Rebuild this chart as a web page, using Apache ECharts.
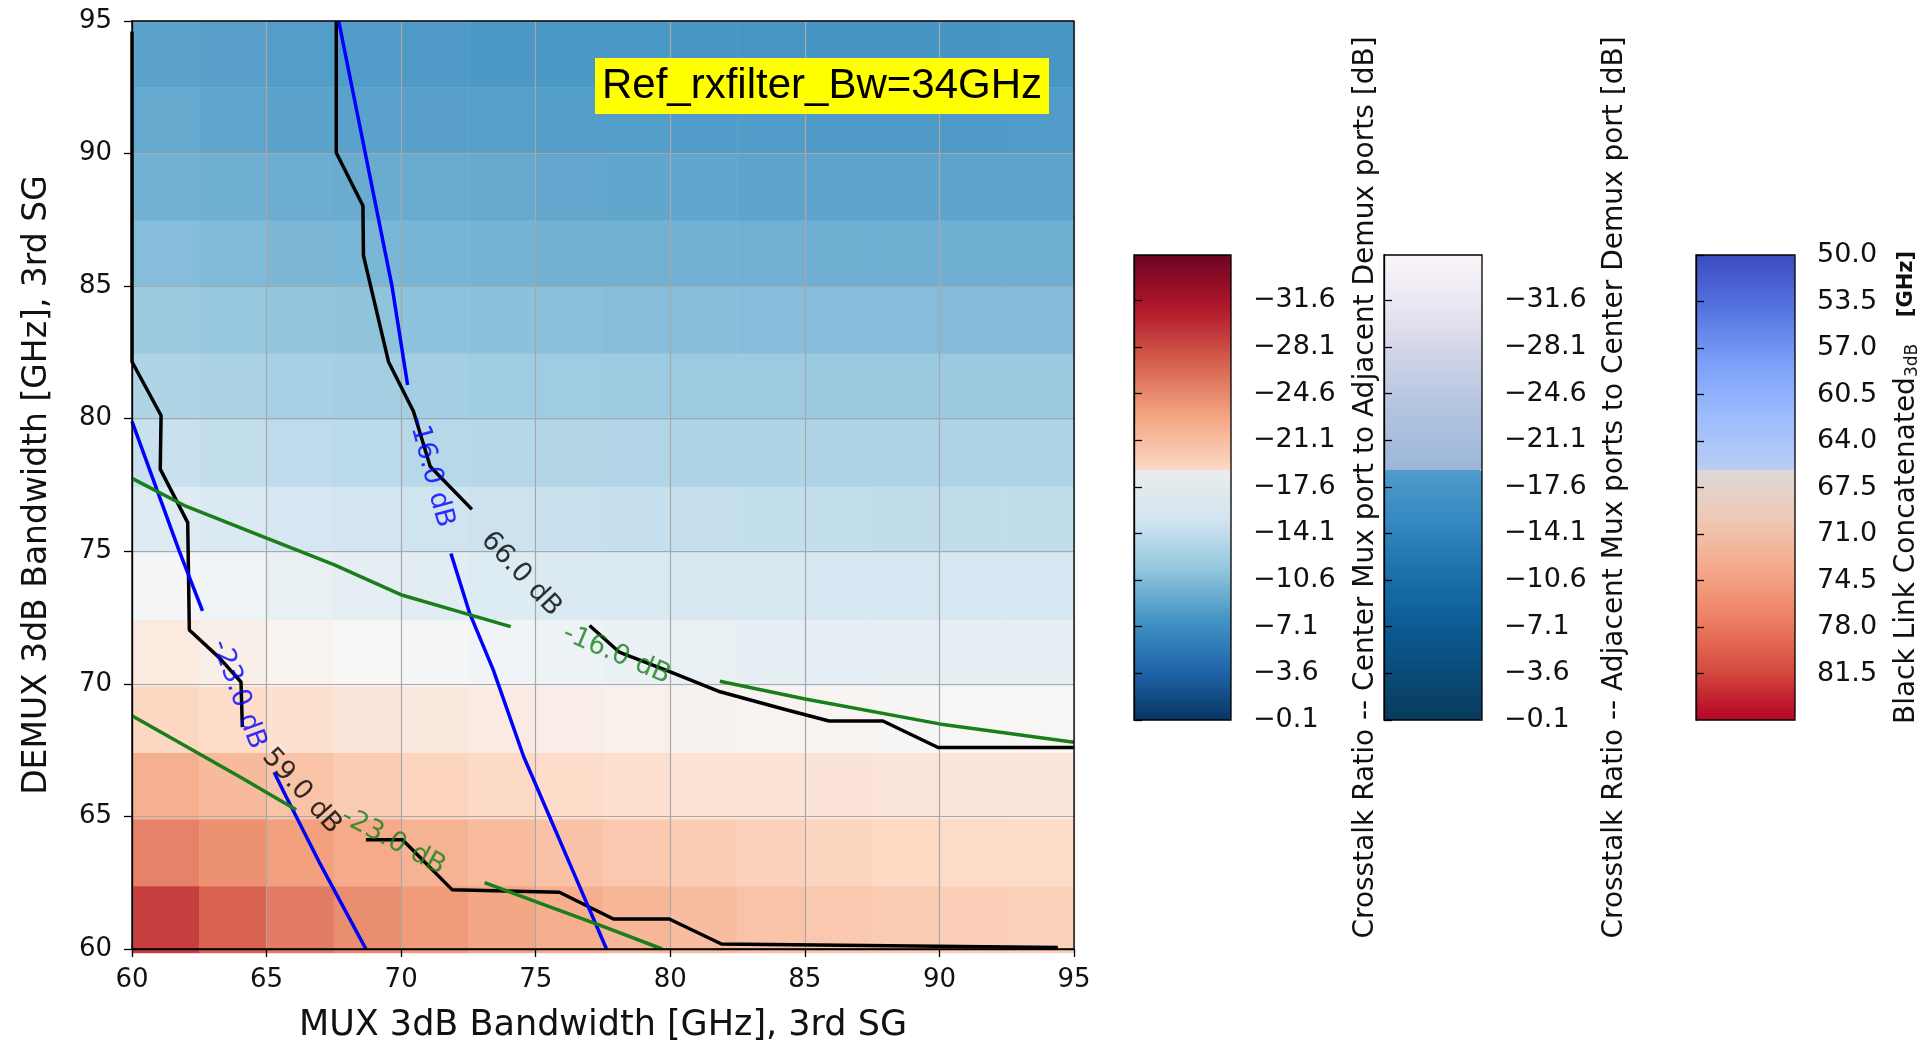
<!DOCTYPE html>
<html>
<head>
<meta charset="utf-8">
<title>Ref_rxfilter_Bw=34GHz</title>
<script src="https://cdn.jsdelivr.net/npm/echarts@6/dist/echarts.min.js"></script>
<style>
  html, body { margin: 0; padding: 0; background: #fff; }
  #main { width: 1929px; height: 1048px; }
</style>
</head>
<body>
<div id="main"></div>
<script>
// ---- background map: 2.5 GHz cells, values in dB (first colour bar scale)
var cellX = ['61.25', '63.75', '66.25', '68.75', '71.25', '73.75', '76.25', '78.75', '81.25', '83.75', '86.25', '88.75', '91.25', '93.75'];
var cellY = ['61.25', '63.75', '66.25', '68.75', '71.25', '73.75', '76.25', '78.75', '81.25', '83.75', '86.25', '88.75', '91.25', '93.75'];
// rows listed from the top of the plot (y = 93.75) down to y = 61.25
var heatRows = [
    [-8.2, -8.0, -7.8, -7.7, -7.6, -7.5, -7.4, -7.4, -7.3, -7.3, -7.2, -7.2, -7.2, -7.3],
    [-8.6, -8.4, -8.2, -8.1, -8.0, -7.9, -7.8, -7.8, -7.7, -7.7, -7.6, -7.6, -7.6, -7.7],
    [-9.2, -9.0, -8.9, -8.8, -8.7, -8.6, -8.5, -8.4, -8.4, -8.3, -8.3, -8.3, -8.3, -8.3],
    [-10.0, -9.8, -9.6, -9.5, -9.4, -9.3, -9.2, -9.2, -9.1, -9.1, -9.0, -9.0, -9.0, -9.0],
    [-11.0, -10.8, -10.6, -10.5, -10.4, -10.3, -10.2, -10.1, -10.1, -10.0, -10.0, -10.0, -9.9, -9.9],
    [-12.2, -12.0, -11.8, -11.6, -11.5, -11.4, -11.3, -11.2, -11.1, -11.1, -11.0, -11.0, -11.0, -11.0],
    [-13.6, -13.3, -13.0, -12.8, -12.6, -12.5, -12.4, -12.3, -12.2, -12.2, -12.1, -12.1, -12.1, -12.1],
    [-15.3, -14.9, -14.5, -14.2, -14.0, -13.8, -13.6, -13.5, -13.4, -13.3, -13.3, -13.2, -13.2, -13.2],
    [-17.2, -16.7, -16.2, -15.8, -15.5, -15.2, -15.0, -14.8, -14.7, -14.6, -14.5, -14.5, -14.4, -14.4],
    [-19.2, -18.6, -18.1, -17.6, -17.2, -16.9, -16.6, -16.4, -16.2, -16.0, -15.9, -15.8, -15.8, -15.8],
    [-21.3, -20.8, -20.3, -19.8, -19.4, -19.0, -18.7, -18.4, -18.2, -18.0, -17.9, -17.8, -17.7, -17.7],
    [-23.8, -23.2, -22.6, -22.0, -21.5, -21.1, -20.8, -20.5, -20.2, -20.0, -19.9, -19.8, -19.7, -19.7],
    [-26.3, -25.5, -24.8, -24.2, -23.6, -23.1, -22.7, -22.3, -22.0, -21.7, -21.4, -21.2, -21.0, -20.9],
    [-29.6, -27.8, -26.6, -25.7, -25.0, -24.4, -23.9, -23.4, -23.0, -22.6, -22.3, -22.0, -21.8, -21.7]
];

// ---- contour lines [MUX GHz, DEMUX GHz], each split where matplotlib put its label
var black59a = [[60, 94.6], [60, 82.15], [61.08, 80.12], [61.05, 78.1], [62.07, 76.08], [62.13, 72.03], [63.24, 70.99], [64.05, 70.07], [64.1, 68.37]];
var black59b = [[68.69, 64.12], [70.05, 64.12], [71.9, 62.23], [75.88, 62.14], [77.89, 61.13], [79.96, 61.13], [81.9, 60.19], [94.4, 60.06]];
var black66a = [[67.59, 95], [67.59, 90.03], [68.58, 88.03], [68.6, 86.15], [69.53, 82.15], [70.46, 80.27], [71.08, 78.2], [72.63, 76.58]];
var black66b = [[77.0, 72.2], [78.1, 71.2], [80.0, 70.45], [81.85, 69.7], [84.2, 69.05], [85.9, 68.6], [87.9, 68.6], [89.95, 67.6], [95, 67.6]];
var blue16a = [[67.68, 95], [68.67, 90], [69.66, 85], [70.24, 81.27]];
var blue16b = [[71.85, 74.92], [72.54, 72.68], [73.43, 70.51], [74.55, 67.26], [75.1, 65.97], [76.4, 62.9], [77.63, 60]];
var blue23a = [[60, 79.9], [61.76, 75], [62.62, 72.75]];
var blue23b = [[65.28, 66.67], [65.72, 65.76], [66.96, 63.27], [68.69, 60]];
var green16a = [[60, 77.75], [62, 76.7], [65, 75.5], [67.5, 74.5], [70.05, 73.34], [72.5, 72.62], [74.07, 72.16]];
var green16b = [[81.84, 70.1], [85.01, 69.43], [90, 68.49], [95, 67.8]];
var green23a = [[60, 68.8], [62, 67.65], [64, 66.5], [66.1, 65.25]];
var green23b = [[73.1, 62.5], [75.5, 61.6], [77.5, 60.85], [79.7, 60]];

// ---- inline contour labels
var labelText = ['59.0 dB', '66.0 dB', '-16.0 dB', '-23.0 dB', '-16.0 dB', '-23.0 dB'];
var labelAt = [[66.3, 65.95], [74.45, 74.14], [71.1, 78.0], [63.95, 69.6], [78.0, 71.1], [69.7, 64.05]];
var labelAngle = [-48, -47, -75, -70, -23, -28];
var labelColor = ['#000', '#000', '#0000ff', '#0000ff', '#1a7f1a', '#1a7f1a'];

// ---- colour bar ticks
var dbTicks = [-31.6, -28.1, -24.6, -21.1, -17.6, -14.1, -10.6, -7.1, -3.6, -0.1];
var ghzTicks = [50.0, 53.5, 57.0, 60.5, 64.0, 67.5, 71.0, 74.5, 78.0, 81.5];

var RdBu = ['#67001f', '#b2182b', '#d6604d', '#f4a582', '#fddbc7', '#f7f7f7', '#d1e5f0', '#92c5de', '#4393c3', '#2166ac', '#053061'];

// colour bars in the picture are pasted from two halves, so each is drawn in two parts
var cb1Top = ['#6d0422', '#b2182b', '#d6604d', '#f4a582', '#fcd9c6'];
var cb1Bot = ['#ececec', '#d1e5f0', '#92c5de', '#4393c3', '#2166ac', '#073462'];
var cb2Top = ['#fbf5f9', '#e8e5f1', '#cdd1e6', '#afc2de', '#9cb6d9'];
var cb2Bot = ['#4f9bcb', '#3689c1', '#1c72ab', '#0c5f96', '#094c7a', '#083a5c'];
var cb3Top = ['#3b4cc0', '#5673e0', '#7b9ff9', '#9dbcfd', '#b8cdf4'];
var cb3Bot = ['#dcd9d7', '#efc8b3', '#f6a78a', '#ec7f63', '#d54b3e', '#b40426'];

var FONT = 'DejaVu Sans';
var CB_TOP = 255, CB_BREAK = 470, CB_BOTTOM = 720;

var heatData = [];
heatRows.forEach(function (row, r) {
    var yi = cellY.length - 1 - r;
    row.forEach(function (v, xi) {
        heatData.push([xi, yi, v]);
    });
});

function minusFmt(v) {
    return (v < 0 ? '\u2212' : '') + Math.abs(v).toFixed(1);
}

function contour(data, color) {
    return {
        type: 'line',
        xAxisIndex: 0,
        yAxisIndex: 0,
        data: data,
        symbol: 'none',
        showSymbol: false,
        silent: true,
        z: 4,
        lineStyle: { color: color, width: 3.5 }
    };
}

function cbAxis(idx, min, max, ticks, name, gap, rich) {
    return {
        type: 'value',
        gridIndex: idx,
        position: 'right',
        min: min,
        max: max,
        inverse: true,
        z: 6,
        splitLine: { show: false },
        axisLine: { show: true, lineStyle: { color: '#000', width: 1.3 } },
        axisTick: { show: true, length: 8, customValues: ticks, lineStyle: { color: '#000', width: 1.3 } },
        axisLabel: {
            customValues: ticks, margin: 22, fontFamily: FONT, fontSize: 27, color: '#111',
            formatter: function (v) { return minusFmt(v); }
        },
        name: name,
        nameLocation: 'middle',
        nameRotate: 90,
        nameGap: gap,
        nameTextStyle: { fontFamily: FONT, fontSize: 28, color: '#111', rich: rich }
    };
}

// one half of a colour bar, drawn by a visualMap that drives no series
function cbPart(left, width, min, max, top, bottom, colors) {
    return {
        type: 'continuous', seriesIndex: [], min: min, max: max, inverse: true, calculable: false,
        orient: 'vertical', left: left, top: top, itemWidth: width, itemHeight: bottom - top, padding: 0,
        inRange: { color: colors }
    };
}

var chart = echarts.init(document.getElementById('main'));

var option = {
    animation: false,
    backgroundColor: '#fff',
    title: {
        text: 'Ref_rxfilter_Bw=34GHz',
        left: 595,
        top: 58,
        backgroundColor: '#ffff00',
        padding: [4, 7, 4, 7],
        textStyle: { fontFamily: 'Liberation Sans', fontSize: 42, fontWeight: 'normal', color: '#000', lineHeight: 48 }
    },
    grid: [
        { left: 132, top: 21, width: 942, height: 932, show: true, borderColor: '#000', borderWidth: 1.3, backgroundColor: 'transparent', z: 5 },
        { left: 132, top: 21, width: 942, height: 932 },
        { left: 1134, top: CB_TOP, width: 97, height: CB_BOTTOM - CB_TOP, show: true, borderColor: '#000', borderWidth: 1.3, backgroundColor: 'transparent', z: 6 },
        { left: 1384, top: CB_TOP, width: 98, height: CB_BOTTOM - CB_TOP, show: true, borderColor: '#000', borderWidth: 1.3, backgroundColor: 'transparent', z: 6 },
        { left: 1696, top: CB_TOP, width: 99, height: CB_BOTTOM - CB_TOP, show: true, borderColor: '#000', borderWidth: 1.3, backgroundColor: 'transparent', z: 6 }
    ],
    xAxis: [
        {
            type: 'value', gridIndex: 0, min: 60, max: 95, interval: 5, z: 3,
            axisLine: { show: true, onZero: false, lineStyle: { color: '#000', width: 1.3 } },
            axisTick: { show: true, length: 8, lineStyle: { color: '#000', width: 1.3 } },
            axisLabel: { margin: 18, fontFamily: FONT, fontSize: 26, color: '#111' },
            splitLine: { show: true, lineStyle: { color: '#a8a8a8', width: 1.2 } },
            name: 'MUX 3dB Bandwidth [GHz], 3rd SG',
            nameLocation: 'middle',
            nameGap: 59,
            nameTextStyle: { fontFamily: FONT, fontSize: 35, color: '#111' }
        },
        { type: 'category', gridIndex: 1, data: cellX, show: false },
        { type: 'value', gridIndex: 2, show: false },
        { type: 'value', gridIndex: 3, show: false },
        { type: 'value', gridIndex: 4, show: false }
    ],
    yAxis: [
        {
            type: 'value', gridIndex: 0, min: 60, max: 95, interval: 5, z: 3,
            axisLine: { show: true, onZero: false, lineStyle: { color: '#000', width: 1.3 } },
            axisTick: { show: true, length: 8, lineStyle: { color: '#000', width: 1.3 } },
            axisLabel: { margin: 20, fontFamily: FONT, fontSize: 26, color: '#111' },
            splitLine: { show: true, lineStyle: { color: '#a8a8a8', width: 1.2 } },
            name: 'DEMUX 3dB Bandwidth [GHz], 3rd SG',
            nameLocation: 'middle',
            nameGap: 78,
            nameTextStyle: { fontFamily: FONT, fontSize: 33, color: '#111' }
        },
        { type: 'category', gridIndex: 1, data: cellY, show: false },
        cbAxis(2, -35, -0.1, dbTicks, 'Crosstalk Ratio -- Center Mux port to Adjacent Demux ports [dB]', 121),
        cbAxis(3, -35, -0.1, dbTicks, 'Crosstalk Ratio -- Adjacent Mux ports to Center Demux port [dB]', 119),
        cbAxis(4, 50, 85, ghzTicks, '{n|Black Link Concatenated}{s|3dB}   {u|[GHz]}', 97, {
            n: { fontFamily: FONT, fontSize: 28, color: '#111' },
            s: { fontFamily: FONT, fontSize: 17, color: '#111', verticalAlign: 'bottom', padding: [12, 0, 0, 0] },
            u: { fontFamily: FONT, fontSize: 21, fontWeight: 'bold', color: '#111' }
        })
    ],
    visualMap: [
        {
            type: 'continuous', seriesIndex: 0, min: -35, max: -0.1, show: false,
            inRange: { color: RdBu }
        },
        cbPart(1134, 97, -35, -18.9, CB_TOP, CB_BREAK, cb1Top),
        cbPart(1134, 97, -18.9, -0.1, CB_BREAK, CB_BOTTOM, cb1Bot),
        cbPart(1384, 98, -35, -18.9, CB_TOP, CB_BREAK, cb2Top),
        cbPart(1384, 98, -18.9, -0.1, CB_BREAK, CB_BOTTOM, cb2Bot),
        cbPart(1696, 99, 50, 66.2, CB_TOP, CB_BREAK, cb3Top),
        cbPart(1696, 99, 66.2, 85, CB_BREAK, CB_BOTTOM, cb3Bot)
    ],
    series: [
        {
            type: 'heatmap',
            xAxisIndex: 1,
            yAxisIndex: 1,
            data: heatData,
            z: 1,
            silent: true,
            itemStyle: { borderWidth: 0 }
        },
        contour(black59a, '#000'),
        contour(black59b, '#000'),
        contour(black66a, '#000'),
        contour(black66b, '#000'),
        contour(blue16a, '#0000ff'),
        contour(blue16b, '#0000ff'),
        contour(blue23a, '#0000ff'),
        contour(blue23b, '#0000ff'),
        contour(green16a, '#1a7f1a'),
        contour(green16b, '#1a7f1a'),
        contour(green23a, '#1a7f1a'),
        contour(green23b, '#1a7f1a'),
        {
            type: 'scatter',
            xAxisIndex: 0,
            yAxisIndex: 0,
            symbolSize: 1,
            silent: true,
            z: 5,
            itemStyle: { color: 'rgba(0,0,0,0)' },
            label: { show: true, position: 'inside', fontFamily: FONT, fontSize: 27 },
            data: labelText.map(function (t, i) {
                return {
                    value: labelAt[i],
                    label: { formatter: t, rotate: labelAngle[i], color: labelColor[i] }
                };
            })
        }
    ]
};

chart.setOption(option);
</script>
</body>
</html>
